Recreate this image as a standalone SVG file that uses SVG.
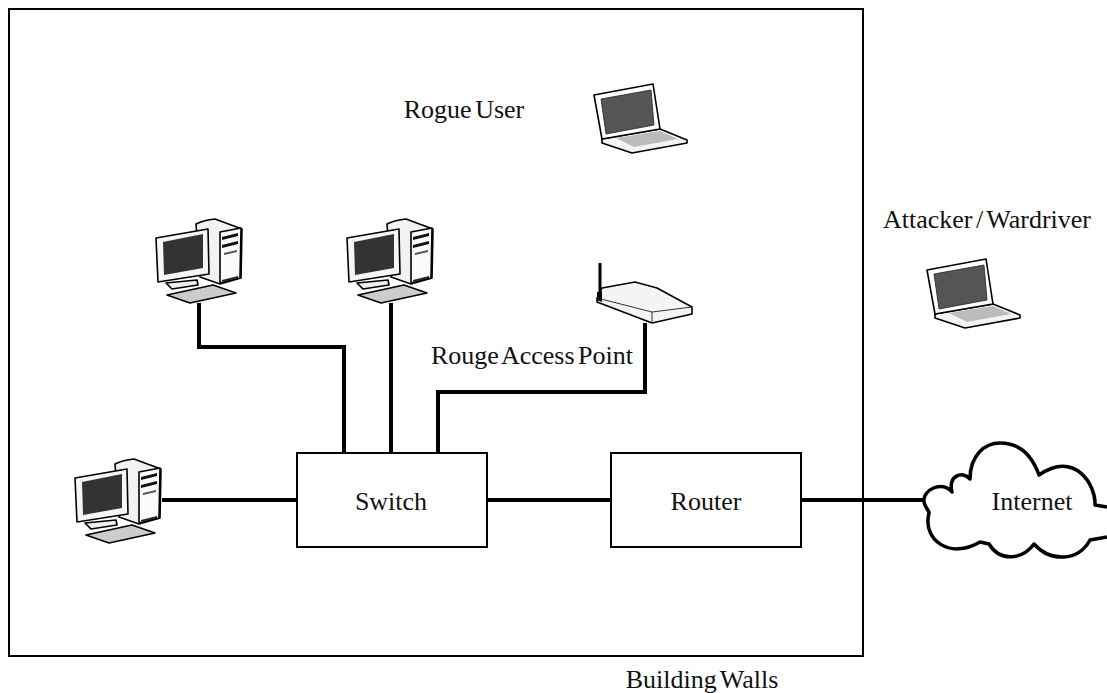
<svg xmlns="http://www.w3.org/2000/svg" width="1107" height="693" viewBox="0 0 1107 693">
<style>
text{font-family:"Liberation Serif","Times New Roman",serif;font-size:26px;fill:#111;text-anchor:middle;word-spacing:-3px}
.box{fill:#fff;stroke:#000;stroke-width:2}
.wire{fill:none;stroke:#000;stroke-width:4}
.o{stroke:#000;stroke-width:1.6;stroke-linejoin:round}
.t{stroke:#000;stroke-width:.8;fill:none}
</style>
<defs>
<g id="pc">
<path class="o" fill="#f2f2f2" d="M196 224Q204 220 215 219L242 229L241 278L220 284L200 277Z"/>
<path class="o" fill="#fafafa" d="M220 232L241 228L240 278L220 283Z"/>
<path fill="#111" d="M222 237L238 233V236L222 240ZM222 245L238 241V244L222 248Z"/>
<path fill="#555" d="M224 253L237 250V252L224 255Z"/>
<path fill="#222" d="M222 280L238 276V278L222 282Z"/>
<path class="o" fill="#eee" d="M166 283L197 280L198 285L172 289Z"/>
<path class="o" fill="#f6f6f6" d="M156 238L208 229L209 274L158 282Z"/>
<path fill="#333" d="M163 242L203 234L203 268L164 275Z"/>
<path class="o" fill="#ccc" d="M167 295L213 285L236 293L190 303Z"/>
</g>
<g id="laptop">
<path class="o" fill="#f4f4f4" d="M602 139L660 129L687 140L687 143L632 153L602 143Z"/>
<path fill="#bbb" d="M616 138L660 131L678 139L634 147Z"/>
<path class="o" fill="#fff" d="M594 95L653 84L660 129L602 139Z"/>
<path fill="#555" stroke="#222" stroke-width=".8" d="M601 99L651 90L654 125L606 134Z"/>
</g>
</defs>
<rect id="building" x="9" y="9" width="854" height="647" fill="none" stroke="#000" stroke-width="2"/>
<g id="connectors">
<path class="wire" d="M199 303V347H344V453"/>
<path class="wire" d="M391 303V453"/>
<path class="wire" d="M645 323V392H438V453"/>
<path class="wire" d="M162 500H297"/>
<path class="wire" d="M487 500H611"/>
<path class="wire" d="M801 500H925"/>
</g>
<g id="pc1"><use href="#pc"/></g>
<g id="pc2"><use href="#pc" x="191" y="0"/></g>
<g id="pc3"><use href="#pc" x="-81" y="240"/></g>
<g id="rogue-laptop"><use href="#laptop"/></g>
<g id="attacker-laptop"><use href="#laptop" x="333" y="175"/></g>
<g id="access-point">
<path d="M600 263V300" stroke="#000" stroke-width="3"/>
<path class="o" fill="#f4f4f4" d="M597 298L602 288L635 282L657 288L692 307L692 314L652 323L597 302Z"/>
<path class="t" d="M597 298L652 312L692 307M652 312V323"/>
<path d="M597 292L602 291V302L597 300Z" fill="#000"/>
</g>
<g id="switch"><rect class="box" x="297" y="453" width="190" height="94"/><text x="391" y="510">Switch</text></g>
<g id="router"><rect class="box" x="611" y="453" width="190" height="94"/><text x="706" y="510">Router</text></g>
<g id="internet">
<path fill="#fff" stroke="#000" stroke-width="3.5" stroke-linejoin="round" d="M1107 507L1095 505C1096 485 1075 450 1039 475C1030 450 1015 443 1000 443C985 443 970 455 970 479C962 470 948 476 952 492C942 480 922 490 924 502C925 508 929 510 929 513C922 540 950 560 980 542L989 544C1000 562 1022 560 1034 544C1050 562 1078 562 1090 540L1107 537"/>
<text x="1032" y="510">Internet</text>
</g>
<text x="464" y="118">Rogue User</text>
<text x="987" y="228">Attacker / Wardriver</text>
<text x="532" y="364">Rouge Access Point</text>
<text x="702" y="688">Building Walls</text>
</svg>
